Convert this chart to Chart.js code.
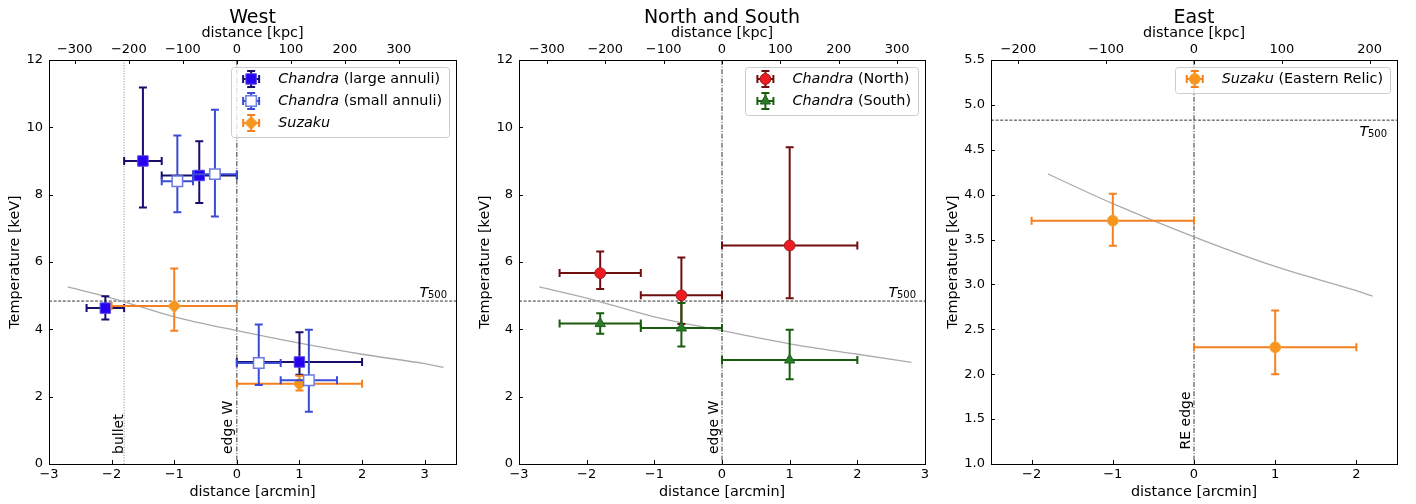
<!DOCTYPE html>
<html>
<head>
<meta charset="utf-8">
<script src="https://cdn.jsdelivr.net/npm/chart.js@4/dist/chart.umd.min.js"></script>
<style>
  html, body { margin: 0; padding: 0; background: #fff; }
  #wrap { position: relative; width: 1416px; height: 504px; overflow: hidden; }
  canvas { position: absolute; top: 0; }
</style>
</head>
<body>
<div id="wrap">
  <canvas id="west" width="470" height="504" style="left:0px"></canvas>
  <canvas id="ns" width="470" height="504" style="left:470px"></canvas>
  <canvas id="east" width="486" height="504" style="left:930px"></canvas>
</div>
<script>
// T500 levels
const t500 = 4.84
const t500East = 4.83

// West: Chandra large annuli
const westLargeX = [-2.1, -1.5, -0.6, 1.0]
const westLargeXLo = [-2.4, -1.8, -1.2, 0.0]
const westLargeXHi = [-1.8, -1.2, 0.0, 2.0]
const westLargeT = [4.63, 9.0, 8.57, 3.03]
const westLargeTLo = [4.29, 7.62, 7.75, 2.65]
const westLargeTHi = [4.98, 11.18, 9.59, 3.91]

// West: Chandra small annuli
const westSmallX = [-0.95, -0.35, 0.35, 1.15]
const westSmallXLo = [-1.2, -0.7, 0.0, 0.7]
const westSmallXHi = [-0.7, 0.0, 0.7, 1.6]
const westSmallT = [8.40, 8.61, 3.00, 2.49]
const westSmallTLo = [7.48, 7.35, 2.35, 1.55]
const westSmallTHi = [9.76, 10.52, 4.14, 3.99]

// West: Suzaku
const westSuzakuX = [-1.0, 1.0]
const westSuzakuXLo = [-2.0, 0.0]
const westSuzakuXHi = [0.0, 2.0]
const westSuzakuT = [4.69, 2.38]
const westSuzakuTLo = [3.96, 2.18]
const westSuzakuTHi = [5.81, 2.62]

const westCurveX = [-2.7, -2, -1, 0, 1, 2, 3, 3.3]
const westCurveT = [5.26, 4.93, 4.37, 3.96, 3.59, 3.26, 2.98, 2.87]

// North and South
const nsX = [-1.8, -0.6, 1.0]
const nsXLo = [-2.4, -1.2, 0.0]
const nsXHi = [-1.2, 0.0, 2.0]
const northT = [5.67, 5.01, 6.49]
const northTLo = [5.20, 4.16, 4.92]
const northTHi = [6.31, 6.13, 9.41]
const southT = [4.17, 4.04, 3.09]
const southTLo = [3.87, 3.49, 2.52]
const southTHi = [4.48, 4.78, 3.99]

const nsCurveX = [-2.7, -2, -1, 0, 1, 2, 2.8]
const nsCurveT = [5.26, 4.93, 4.37, 3.96, 3.57, 3.26, 3.02]

// East: Suzaku (Eastern Relic)
const eastX = [-1.0, 1.0]
const eastXLo = [-2.0, 0.0]
const eastXHi = [0.0, 2.0]
const eastT = [3.71, 2.30]
const eastTLo = [3.43, 2.00]
const eastTHi = [4.01, 2.71]

const eastCurveX = [-1.8, -1, 0, 1, 2, 2.2]
const eastCurveT = [4.23, 3.90, 3.53, 3.20, 2.93, 2.87]

// ticks
const arcTicksWide = [-3, -2, -1, 0, 1, 2, 3]
const arcTicksEast = [-2, -1, 0, 1, 2]
const kpcTicksWide = [-300, -200, -100, 0, 100, 200, 300]
const kpcTicksEast = [-200, -100, 0, 100, 200]
const tempTicks = [0, 2, 4, 6, 8, 10, 12]
const tempTicksEast = [1.0, 1.5, 2.0, 2.5, 3.0, 3.5, 4.0, 4.5, 5.0, 5.5]

const FONT = "'DejaVu Sans', sans-serif"
Chart.defaults.font.family = FONT
Chart.defaults.color = '#000'

const MINUS = '\u2212'
function fmtInt(v) { return v < 0 ? MINUS + Math.abs(v) : String(v) }
function fmt1(v) { return (v < 0 ? MINUS : '') + Math.abs(v).toFixed(1) }
const snap = v => Math.round(v) + 0.5

function pts(x, t) {
    return x.map((v, i) => ({ x: v, y: t[i] }))
}

function series(x, xLo, xHi, t, tLo, tHi, style) {
    return Object.assign({
        type: 'scatter',
        data: pts(x, t),
        xLo: xLo, xHi: xHi, tLo: tLo, tHi: tHi,
        borderWidth: 1,
        showLine: false
    }, style)
}

function curve(x, t) {
    return {
        type: 'line',
        data: pts(x, t),
        borderColor: '#aaaaaa',
        borderWidth: 1.3,
        pointRadius: 0,
        cubicInterpolationMode: 'monotone',
        fill: false,
        order: 20
    }
}

function drawMarker(ctx, ds, x, y) {
    Chart.helpers.drawPoint(ctx, {
        pointStyle: ds.pointStyle,
        radius: ds.pointRadius,
        borderWidth: ds.borderWidth,
        rotation: 0
    }, x, y)
}

function drawErr(ctx, color, x0, x1, y, vertical) {
    // a bar with caps at both ends
    ctx.strokeStyle = color
    ctx.lineWidth = 2
    ctx.beginPath()
    if (vertical) {
        ctx.moveTo(y, x0); ctx.lineTo(y, x1)
        ctx.moveTo(y - 4, x0); ctx.lineTo(y + 4, x0)
        ctx.moveTo(y - 4, x1); ctx.lineTo(y + 4, x1)
    } else {
        ctx.moveTo(x0, y); ctx.lineTo(x1, y)
        ctx.moveTo(x0, y - 4); ctx.lineTo(x0, y + 4)
        ctx.moveTo(x1, y - 4); ctx.lineTo(x1, y + 4)
    }
    ctx.stroke()
}

function panelPlugin(p) {
    return {
        id: 'panel_' + p.id,
        beforeDatasetsDraw(chart) {
            const { ctx, chartArea: a, scales: { x, y } } = chart
            ctx.save()
            ctx.beginPath()
            ctx.rect(a.left, a.top, a.width, a.height)
            ctx.clip()

            // vertical reference lines
            p.vlines.forEach(v => {
                const px = x.getPixelForValue(v.x)
                ctx.strokeStyle = v.color
                ctx.lineWidth = v.width
                ctx.setLineDash(v.dash)
                ctx.beginPath()
                ctx.moveTo(px, a.top); ctx.lineTo(px, a.bottom)
                ctx.stroke()
            })
            ctx.setLineDash([])

            // T500 line
            const ty = y.getPixelForValue(p.t500)
            ctx.strokeStyle = '#000'
            ctx.lineWidth = 0.8
            ctx.setLineDash([3, 1.6])
            ctx.beginPath()
            ctx.moveTo(a.left, ty); ctx.lineTo(a.right, ty)
            ctx.stroke()
            ctx.setLineDash([])

            // labels of the vertical lines
            ctx.fillStyle = '#000'
            ctx.font = '14px ' + FONT
            p.vlines.forEach(v => {
                const px = x.getPixelForValue(v.x)
                const desc = ctx.measureText(v.label).actualBoundingBoxDescent
                ctx.save()
                ctx.translate(px - 1.5 - desc, a.bottom - p.vlabelOff)
                ctx.rotate(-Math.PI / 2)
                ctx.textAlign = 'left'
                ctx.textBaseline = 'alphabetic'
                ctx.fillText(v.label, 0, 0)
                ctx.restore()
            })

            // T500 label
            ctx.font = 'italic 14.4px ' + FONT
            const wT = ctx.measureText('T').width
            ctx.font = '10px ' + FONT
            const wS = ctx.measureText('500').width
            const right = a.right - p.tlabelRight
            const base = p.tlabelBelow ? ty + 15.5 : ty - 4.5
            ctx.textAlign = 'left'
            ctx.textBaseline = 'alphabetic'
            ctx.font = 'italic 14.4px ' + FONT
            ctx.fillText('T', right - wS - wT + 0.5, base)
            ctx.font = '10px ' + FONT
            ctx.fillText('500', right - wS, base + 1.8)
            ctx.restore()
        },
        beforeDatasetDraw(chart, args) {
            const ds = chart.data.datasets[args.index]
            if (!ds.xLo) return
            const { ctx, scales: { x, y } } = chart
            ctx.save()
            ds.data.forEach((d, i) => {
                const py = y.getPixelForValue(d.y)
                const px = x.getPixelForValue(d.x)
                drawErr(ctx, ds.errColor, x.getPixelForValue(ds.xLo[i]), x.getPixelForValue(ds.xHi[i]), py, false)
                drawErr(ctx, ds.errColor, y.getPixelForValue(ds.tLo[i]), y.getPixelForValue(ds.tHi[i]), px, true)
            })
            ctx.restore()
        },
        afterDraw(chart) {
            const { ctx, chartArea: a, scales } = chart
            ctx.save()
            // frame
            ctx.strokeStyle = '#000'
            ctx.lineWidth = 1
            ctx.strokeRect(snap(a.left), snap(a.top), Math.round(a.right) - Math.round(a.left), Math.round(a.bottom) - Math.round(a.top))

            // inward ticks
            ctx.beginPath()
            scales.x.ticks.forEach(t => {
                const px = snap(scales.x.getPixelForValue(t.value))
                ctx.moveTo(px, a.bottom); ctx.lineTo(px, a.bottom - 4)
            })
            scales.x2.ticks.forEach(t => {
                const px = snap(scales.x2.getPixelForValue(t.value))
                ctx.moveTo(px, a.top); ctx.lineTo(px, a.top + 4)
            })
            scales.y.ticks.forEach(t => {
                const py = snap(scales.y.getPixelForValue(t.value))
                ctx.moveTo(a.left, py); ctx.lineTo(a.left + 4, py)
            })
            ctx.stroke()

            // panel title
            ctx.fillStyle = '#000'
            ctx.font = '19px ' + FONT
            ctx.textAlign = 'center'
            ctx.textBaseline = 'alphabetic'
            ctx.fillText(p.title, (a.left + a.right) / 2, 22.7)

            // legend
            const items = chart.data.datasets.filter(d => d.italic)
            ctx.textBaseline = 'middle'
            let maxW = 0
            items.forEach(d => {
                ctx.font = 'italic 14.4px ' + FONT
                let w = ctx.measureText(d.italic).width
                ctx.font = '14.4px ' + FONT
                w += ctx.measureText(d.rest).width
                maxW = Math.max(maxW, w)
            })
            const bw = 47 + maxW + 7
            const bh = 26 + 22 * (items.length - 1)
            const bx = a.right - 7 - bw
            const by = a.top + 7
            ctx.fillStyle = 'rgba(255,255,255,0.8)'
            ctx.strokeStyle = '#cccccc'
            ctx.lineWidth = 1
            ctx.beginPath()
            ctx.roundRect(snap(bx), snap(by), Math.round(bw), Math.round(bh), 3)
            ctx.fill()
            ctx.stroke()

            items.forEach((d, i) => {
                const cy = by + 12 + 22 * i
                const mx = bx + 20
                drawErr(ctx, d.errColor, mx - 8, mx + 8, cy, false)
                drawErr(ctx, d.errColor, cy - 8, cy + 8, mx, true)
                ctx.fillStyle = d.backgroundColor
                ctx.strokeStyle = d.borderColor
                ctx.lineWidth = d.borderWidth
                drawMarker(ctx, d, mx, cy)
                ctx.fillStyle = '#000'
                ctx.textAlign = 'left'
                ctx.font = 'italic 14.4px ' + FONT
                ctx.fillText(d.italic, bx + 47, cy)
                const wi = ctx.measureText(d.italic).width
                ctx.font = '14.4px ' + FONT
                ctx.fillText(d.rest, bx + 47 + wi, cy)
            })
            ctx.restore()
        }
    }
}

function makePanel(p) {
    return new Chart(document.getElementById(p.id), {
        type: 'scatter',
        data: { datasets: [curve(p.curveX, p.curveT)].concat(p.series) },
        options: {
            responsive: false,
            animation: false,
            devicePixelRatio: 1,
            events: [],
            layout: { padding: { top: 20, right: p.padRight, left: 0, bottom: 0 } },
            plugins: { legend: { display: false }, tooltip: { enabled: false }, title: { display: false } },
            scales: {
                x: {
                    type: 'linear', position: 'bottom', min: p.xMin, max: p.xMax,
                    grid: { display: false, drawTicks: false }, border: { display: false },
                    ticks: { font: { size: 13 }, padding: 2.5, maxRotation: 0, autoSkip: false, callback: v => fmtInt(v) },
                    afterBuildTicks: s => { s.ticks = p.xTicks.map(v => ({ value: v })) },
                    afterFit: s => { s.height = 40 },
                    title: { display: true, text: 'distance [arcmin]', font: { size: 14.4 }, padding: { top: 0, bottom: 3.4 } }
                },
                x2: {
                    type: 'linear', axis: 'x', position: 'top', min: p.xMin * p.kpc, max: p.xMax * p.kpc,
                    grid: { display: false, drawTicks: false }, border: { display: false },
                    ticks: { font: { size: 13 }, padding: 3, maxRotation: 0, autoSkip: false, callback: v => fmtInt(v) },
                    afterBuildTicks: s => { s.ticks = p.kpcTicks.map(v => ({ value: v })) },
                    afterFit: s => { s.height = 40 },
                    title: { display: true, text: 'distance [kpc]', font: { size: 14.4 }, padding: { top: 4.4, bottom: 0 } }
                },
                y: {
                    type: 'linear', position: 'left', min: p.yMin, max: p.yMax,
                    grid: { display: false, drawTicks: false }, border: { display: false },
                    ticks: { font: { size: 13 }, padding: 6, autoSkip: false, callback: p.yFmt },
                    afterBuildTicks: s => { s.ticks = p.yTicks.map(v => ({ value: v })) },
                    afterFit: s => { s.width = p.yWidth },
                    title: { display: true, text: 'Temperature [keV]', font: { size: 14.4 }, padding: { top: p.yTitlePad, bottom: 0 } }
                }
            }
        },
        plugins: [panelPlugin(p)]
    })
}

const edgeStyle = { color: '#000', width: 0.8, dash: [5, 1.6, 1, 1.6] }

makePanel({
    id: 'west', title: 'West',
    xMin: -3, xMax: 3.5, kpc: 115.9, xTicks: arcTicksWide, kpcTicks: kpcTicksWide,
    yMin: 0, yMax: 12, yTicks: tempTicks, yFmt: v => fmtInt(v),
    yWidth: 49, padRight: 14, yTitlePad: 7,
    t500: t500, tlabelRight: 9, tlabelBelow: false, vlabelOff: 10,
    vlines: [
        { x: -1.8, label: 'bullet', color: '#888888', width: 1, dash: [1, 1.65] },
        Object.assign({ x: 0, label: 'edge W' }, edgeStyle)
    ],
    curveX: westCurveX, curveT: westCurveT,
    series: [
        series(westLargeX, westLargeXLo, westLargeXHi, westLargeT, westLargeTLo, westLargeTHi, {
            italic: 'Chandra', rest: ' (large annuli)', order: 3,
            pointStyle: 'rect', pointRadius: 7.4,
            backgroundColor: '#2600f2', borderColor: '#5548e8', errColor: '#170d6b'
        }),
        series(westSmallX, westSmallXLo, westSmallXHi, westSmallT, westSmallTLo, westSmallTHi, {
            italic: 'Chandra', rest: ' (small annuli)', order: 1,
            pointStyle: 'rect', pointRadius: 7.4, borderWidth: 1.5,
            backgroundColor: '#ffffff', borderColor: '#6a7ae2', errColor: '#3a4bd6'
        }),
        series(westSuzakuX, westSuzakuXLo, westSuzakuXHi, westSuzakuT, westSuzakuTLo, westSuzakuTHi, {
            italic: 'Suzaku', rest: '', order: 2,
            pointStyle: 'rectRot', pointRadius: 6.5,
            backgroundColor: '#f7961e', borderColor: '#f9a23a', errColor: '#f5801f'
        })
    ]
})

makePanel({
    id: 'ns', title: 'North and South',
    xMin: -3, xMax: 3, kpc: 115.9, xTicks: arcTicksWide, kpcTicks: kpcTicksWide,
    yMin: 0, yMax: 12, yTicks: tempTicks, yFmt: v => fmtInt(v),
    yWidth: 49, padRight: 15, yTitlePad: 7,
    t500: t500, tlabelRight: 9, tlabelBelow: false, vlabelOff: 10,
    vlines: [Object.assign({ x: 0, label: 'edge W' }, edgeStyle)],
    curveX: nsCurveX, curveT: nsCurveT,
    series: [
        series(nsX, nsXLo, nsXHi, northT, northTLo, northTHi, {
            italic: 'Chandra', rest: ' (North)', order: 2,
            pointStyle: 'circle', pointRadius: 5.4,
            backgroundColor: '#ec1c22', borderColor: '#a51a1a', errColor: '#6f0e0e'
        }),
        series(nsX, nsXLo, nsXHi, southT, southTLo, southTHi, {
            italic: 'Chandra', rest: ' (South)', order: 1,
            pointStyle: 'triangle', pointRadius: 6,
            backgroundColor: '#2a7a2a', borderColor: '#1f621f', errColor: '#1a5c0d'
        })
    ]
})

makePanel({
    id: 'east', title: 'East',
    xMin: -2.5, xMax: 2.5, kpc: 92.5, xTicks: arcTicksEast, kpcTicks: kpcTicksEast,
    yMin: 1, yMax: 5.5, yTicks: tempTicksEast, yFmt: v => fmt1(v),
    yWidth: 61, padRight: 19, yTitlePad: 14.4,
    t500: t500East, tlabelRight: 10, tlabelBelow: true, vlabelOff: 14.5,
    vlines: [Object.assign({ x: 0, label: 'RE edge' }, edgeStyle)],
    curveX: eastCurveX, curveT: eastCurveT,
    series: [
        series(eastX, eastXLo, eastXHi, eastT, eastTLo, eastTHi, {
            italic: 'Suzaku', rest: ' (Eastern Relic)', order: 1,
            pointStyle: 'circle', pointRadius: 5.4,
            backgroundColor: '#f7961e', borderColor: '#f9a23a', errColor: '#f5801f'
        })
    ]
})
</script>
</body>
</html>
